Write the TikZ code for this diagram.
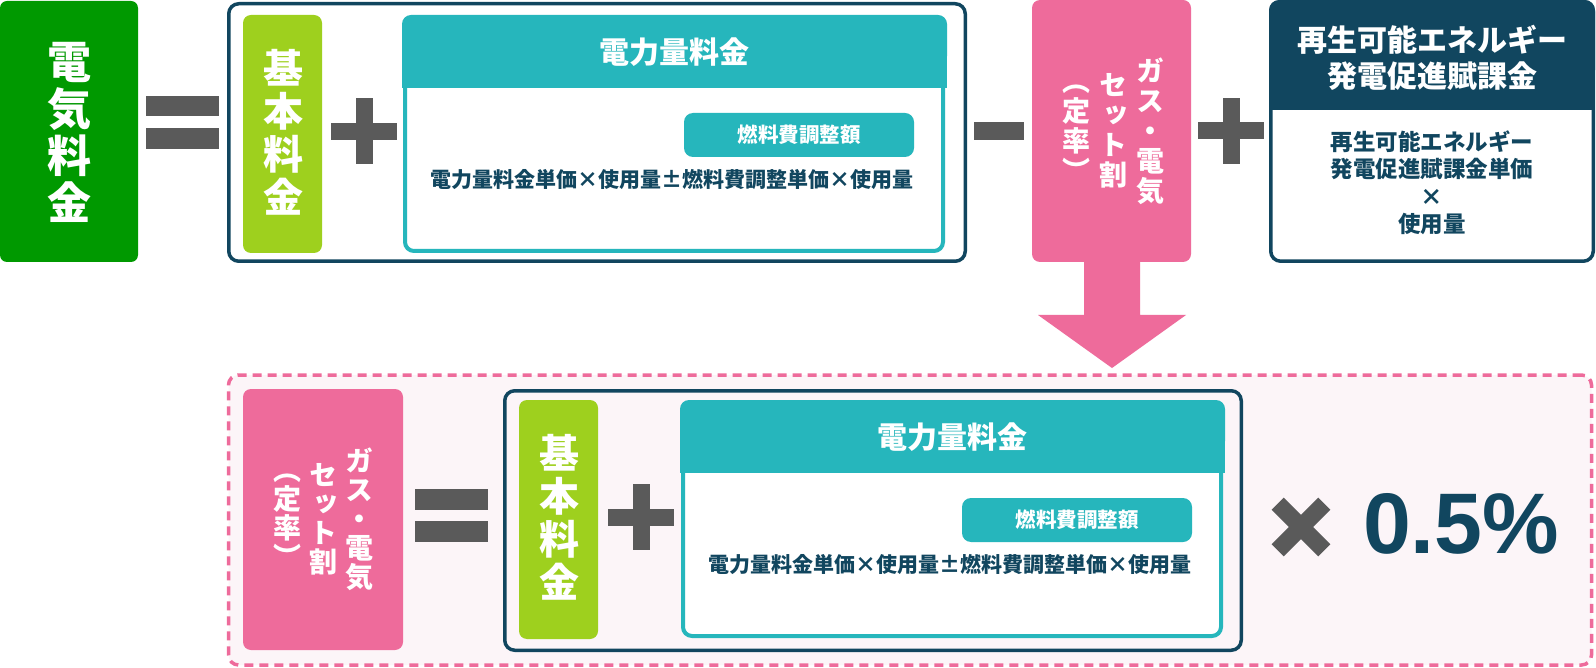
\documentclass[tikz,border=0pt]{standalone}
\usepackage{fontspec}
\newfontfamily\jp{Noto Sans CJK JP}
\newfontfamily\jpv{Noto Sans CJK JP}[RawFeature=+vert]
\newfontfamily\numfont{Liberation Sans}
\definecolor{cgreen}{RGB}{0,153,0}
\definecolor{clime}{RGB}{158,208,30}
\definecolor{cteal}{RGB}{38,182,188}
\definecolor{cnavy}{RGB}{17,70,95}
\definecolor{cpink}{RGB}{238,107,155}
\definecolor{cgray}{RGB}{90,90,90}
\definecolor{cbg}{RGB}{252,245,248}
\tikzset{
  blk/.style={inner sep=0pt, outer sep=0pt},
  vtxt/.style={blk, align=center, text=white},
  bigv/.style={vtxt, font=\jp\bfseries\fontsize{44}{47}\selectfont},
  midv/.style={vtxt, font=\jp\bfseries\fontsize{40}{43}\selectfont},
  pinkv/.style={vtxt, font=\jpv\bfseries\fontsize{28}{30}\selectfont},
  headtxt/.style={blk, text=white, font=\jp\bfseries\fontsize{30}{36}\selectfont},
  pilltxt/.style={blk, text=white, font=\jp\bfseries\fontsize{20.5}{24}\selectfont},
  formtxt/.style={blk, text=cnavy, font=\jp\bfseries\fontsize{21}{26}\selectfont},
}
\newcommand\plusop[2]{%
  \fill[cgray] (#1-33,#2-8.5) rectangle (#1+33,#2+8.5);
  \fill[cgray] (#1-8.5,#2-33) rectangle (#1+8.5,#2+33);}
\newcommand\equalop[2]{%
  \fill[cgray] (#1,#2) rectangle (#1+73,#2+20.5);
  \fill[cgray] (#1,#2+32) rectangle (#1+73,#2+53);}
\newcommand\chargebox[3]{% x0 y0 suffix : teal box x0..x0+546, y0..y0+239
  \draw[cteal, line width=4pt, fill=white, rounded corners=9pt] (#1+3,#2+40) rectangle (#1+541,#2+236);
  \fill[cteal, rounded corners=9pt] (#1,#2) rectangle (#1+545,#2+50);
  \fill[cteal] (#1,#2+30) rectangle (#1+545,#2+73);
  \node[headtxt] (head#3) at (#1+272,#2+37) {電力量料金};
  \node[blk, fill=cteal, rounded corners=9pt, minimum width=230pt, minimum height=44pt] (pill#3) at (#1+397,#2+120) {};
  \node[pilltxt] (pilltext#3) at (pill#3.center) {燃料費調整額};
  \node[formtxt] (form#3) at (#1+270,#2+165) {電力量料金単価×使用量±燃料費調整単価×使用量};}
\begin{document}
\begin{tikzpicture}[x=1pt,y=-1pt]
\useasboundingbox (0,0) rectangle (1596,668);
\fill[white] (0,0) rectangle (1596,668);

% ---------- top row ----------
\node[blk, fill=cgreen, rounded corners=7pt, minimum width=138pt, minimum height=261pt] (total) at (69,131.5) {};
\node[bigv] (totaltxt) at (69,132) {電\\気\\料\\金};

\equalop{146}{96}

\node[blk, draw=cnavy, line width=3.5pt, rounded corners=10pt, minimum width=736.5pt, minimum height=257.5pt] (outerA) at (597,132.5) {};

\node[blk, fill=clime, rounded corners=8pt, minimum width=79pt, minimum height=238pt] (baseA) at (282.5,134) {};
\node[midv] (baseAtxt) at (283,132) {基\\本\\料\\金};

\plusop{364}{131.5}

\chargebox{402}{15}{A}

\fill[cgray] (974,122) rectangle (1024,140);

% pink discount box + arrow
\fill[cpink] (1084,250) -- (1140,250) -- (1140,315) -- (1186,315) -- (1112,368) -- (1038,315) -- (1084,315) -- cycle;
\node[blk, fill=cpink, rounded corners=8pt, minimum width=159pt, minimum height=262pt] (discA) at (1111.5,131) {};
\node[pinkv] (discA1) at (1150,131) {ガ\\ス\\・\\電\\気};
\node[pinkv] (discA2) at (1113,131) {セ\\ッ\\ト\\割};
\node[pinkv] (discA3) at (1076,133) {︵\\定\\率\\︶};

\plusop{1231}{131}

% renewable surcharge box
\node[blk, draw=cnavy, fill=white, line width=3.5pt, rounded corners=10pt, minimum width=322.5pt, minimum height=259.5pt] (renew) at (1432,131.5) {};
\fill[cnavy, rounded corners=10pt] (1269,0) rectangle (1595,80);
\fill[cnavy] (1269,40) rectangle (1595,110);
\node[headtxt, align=center] (renewhead) at (1432,58) {再生可能エネルギー\\発電促進賦課金};
\node[blk, align=center, text=cnavy, font=\jp\bfseries\fontsize{22.5}{27.5}\selectfont] (renewbody) at (1432,183) {再生可能エネルギー\\発電促進賦課金単価\\×\\使用量};

% ---------- bottom row ----------
\node[blk, draw=cpink, fill=cbg, line width=3.5pt, dash pattern=on 9pt off 6pt, rounded corners=10pt, minimum width=1363pt, minimum height=290pt] (frame) at (910,520) {};

\node[blk, fill=cpink, rounded corners=8pt, minimum width=160pt, minimum height=261pt] (discB) at (323,519.5) {};
\node[pinkv, font=\jpv\bfseries\fontsize{28}{29}\selectfont] (discB1) at (359,519) {ガ\\ス\\・\\電\\気};
\node[pinkv, font=\jpv\bfseries\fontsize{28}{29}\selectfont] (discB2) at (323,519) {セ\\ッ\\ト\\割};
\node[pinkv, font=\jpv\bfseries\fontsize{28}{29}\selectfont] (discB3) at (287,521) {︵\\定\\率\\︶};

\equalop{415}{489}

\node[blk, draw=cnavy, line width=3.5pt, rounded corners=10pt, minimum width=736.5pt, minimum height=259.5pt] (outerB) at (873,520.5) {};

\node[blk, fill=clime, rounded corners=8pt, minimum width=79pt, minimum height=239pt] (baseB) at (558.5,519.5) {};
\node[midv] (baseBtxt) at (559,517) {基\\本\\料\\金};

\plusop{641}{517}

\chargebox{680}{400}{B}

% times 0.5%
\begin{scope}[rotate around={45:(1301,527)}]
  \fill[cgray] (1268,518.5) rectangle (1334,535.5);
  \fill[cgray] (1292.5,494) rectangle (1309.5,560);
\end{scope}
\node[blk, anchor=base west, text=cnavy, font=\numfont\bfseries\fontsize{86}{86}\selectfont] (pct) at (1363,553) {0.5\%};
\end{tikzpicture}
\end{document}
